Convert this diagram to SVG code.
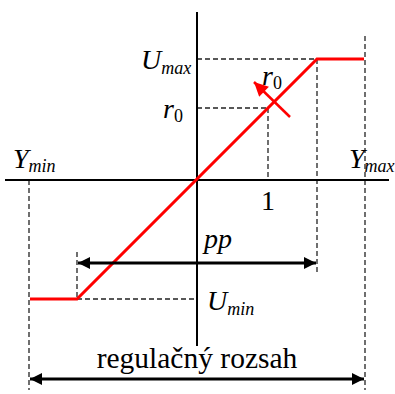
<svg xmlns="http://www.w3.org/2000/svg" width="395" height="394" viewBox="0 0 395 394">
<style>
.ax{stroke:#000;stroke-width:2;fill:none}
.d{stroke:#222;stroke-width:1.3;stroke-dasharray:5,3;fill:none}
.t{font-family:"Liberation Serif","Times New Roman",serif;font-style:italic;fill:#000}
.u{font-family:"Liberation Serif","Times New Roman",serif;fill:#000}
.big{font-size:28px}
.sub{font-size:18px}
</style>
<defs>
<marker id="ah" viewBox="0 0 10 10" refX="10" refY="5" markerWidth="15" markerHeight="12" markerUnits="userSpaceOnUse" orient="auto-start-reverse"><path d="M0,0 L10,5 L0,10 z" fill="#000"/></marker>
<marker id="rh" viewBox="0 0 10 10" refX="10" refY="5" markerWidth="16" markerHeight="14" markerUnits="userSpaceOnUse" orient="auto"><path d="M0,0 L10,5 L0,10 z" fill="#f00"/></marker>
</defs>
<g id="connectors">
<line class="d" x1="197" y1="59" x2="317" y2="59"/>
<line class="d" x1="317" y1="59" x2="317" y2="275"/>
<line class="d" x1="197" y1="108" x2="268" y2="108"/>
<line class="d" x1="268" y1="108" x2="268" y2="180"/>
<line class="d" x1="77" y1="299" x2="197" y2="299"/>
<line class="d" x1="77" y1="252" x2="77" y2="299"/>
<line class="d" x1="29" y1="180" x2="29" y2="390"/>
<line class="d" x1="365" y1="36" x2="365" y2="390"/>
<line class="ax" x1="197" y1="12" x2="197" y2="346"/>
<line class="ax" x1="5" y1="180" x2="389" y2="180"/>
<polyline points="30,299 77,299 317,59 364,59" stroke="#f00" stroke-width="3" fill="none"/>
<line x1="290" y1="117" x2="254" y2="82" stroke="#f00" stroke-width="2.5" marker-end="url(#rh)"/>
<line x1="78" y1="263" x2="316" y2="263" stroke="#000" stroke-width="3" marker-start="url(#ah)" marker-end="url(#ah)"/>
<line x1="30" y1="379" x2="364" y2="379" stroke="#000" stroke-width="3" marker-start="url(#ah)" marker-end="url(#ah)"/>
</g>
<g id="labels">
<text class="t big" x="141" y="69">U<tspan class="sub" dy="5">max</tspan></text>
<text class="t big" x="163" y="118">r<tspan class="u sub" dy="4" font-style="normal">0</tspan></text>
<text class="t big" x="262" y="85">r<tspan class="u sub" dy="4" font-style="normal">0</tspan></text>
<text class="t big" x="13" y="168">Y<tspan class="sub" dy="4">min</tspan></text>
<text class="t big" x="349" y="168">Y<tspan class="sub" dy="4">max</tspan></text>
<text class="u big" x="261" y="210">1</text>
<text class="t big" x="204" y="248">pp</text>
<text class="t big" x="207" y="310">U<tspan class="sub" dy="5">min</tspan></text>
<text class="u" font-size="29.5" x="197" y="368" text-anchor="middle">regulačný rozsah</text>
</g>
</svg>
